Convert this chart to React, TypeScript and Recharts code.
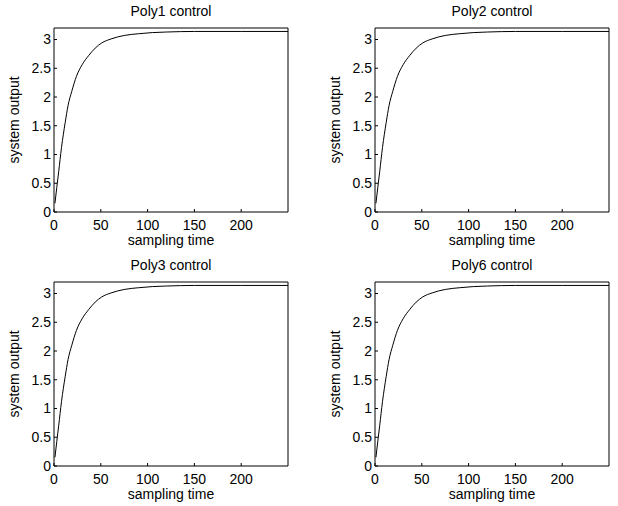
import { LineChart, Line, XAxis, YAxis } from 'recharts';

const sampleTimes = [1, 3, 5, 8, 12, 15, 19, 24, 30, 37, 44, 51, 61, 75, 90, 105, 120, 150, 200, 250];
const systemOutput = [0.15, 0.43, 0.7, 1.12, 1.56, 1.85, 2.1, 2.36, 2.56, 2.72, 2.85, 2.94, 3.01, 3.07, 3.1, 3.12, 3.13, 3.14, 3.14, 3.14];

const panelTitles = ['Poly1 control', 'Poly2 control', 'Poly3 control', 'Poly6 control'];
const xTicks = [0, 50, 100, 150, 200];
const yTicks = [0, 0.5, 1, 1.5, 2, 2.5, 3];

const FONT = '"Liberation Sans", Arial, sans-serif';
const tickStyle = { fill: '#000', fontSize: 14, fontFamily: FONT };

const data = sampleTimes.map((t, i) => ({ t, y: systemOutput[i] }));

function Panel({ title, left, top }: { title: string; left: number; top: number }) {
  return (
    <div style={{ position: 'absolute', left, top }}>
      <LineChart
        width={297}
        height={253}
        data={data}
        margin={{ top: 8, right: 4, bottom: 1, left: 0 }}
      >
        <XAxis
          xAxisId="bottom"
          dataKey="t"
          type="number"
          domain={[0, 250]}
          ticks={xTicks}
          height={40}
          stroke="#000"
          tickSize={-3}
          tickMargin={11}
          tick={tickStyle}
          label={{ value: 'sampling time', position: 'insideBottom', offset: 7, fill: '#000', fontSize: 14, fontFamily: FONT }}
        />
        <XAxis
          xAxisId="top"
          orientation="top"
          dataKey="t"
          type="number"
          domain={[0, 250]}
          ticks={xTicks}
          height={20}
          stroke="#000"
          tickSize={-3}
          tick={false}
          label={{ value: title, position: 'top', offset: -8, fill: '#000', fontSize: 14, fontFamily: FONT }}
        />
        <YAxis
          yAxisId="left"
          type="number"
          domain={[0, 3.2]}
          ticks={yTicks}
          width={54}
          stroke="#000"
          tickSize={-3}
          tickMargin={6}
          tick={tickStyle}
          label={{ value: 'system output', angle: -90, position: 'insideLeft', offset: 14, fill: '#000', fontSize: 14, fontFamily: FONT, style: { textAnchor: 'middle' } }}
        />
        <YAxis
          yAxisId="right"
          orientation="right"
          type="number"
          domain={[0, 3.2]}
          ticks={yTicks}
          width={5}
          stroke="#000"
          tickSize={-3}
          tick={false}
        />
        <Line
          xAxisId="bottom"
          yAxisId="left"
          type="monotone"
          dataKey="y"
          stroke="#000"
          strokeWidth={1}
          dot={false}
          isAnimationActive={false}
        />
      </LineChart>
    </div>
  );
}

export default function App() {
  return (
    <div style={{ position: 'absolute', left: 0, top: 0, width: 618, height: 506, background: '#fff', overflow: 'hidden' }}>
      <Panel title={panelTitles[0]} left={0} top={0} />
      <Panel title={panelTitles[1]} left={321} top={0} />
      <Panel title={panelTitles[2]} left={0} top={254} />
      <Panel title={panelTitles[3]} left={321} top={254} />
    </div>
  );
}
